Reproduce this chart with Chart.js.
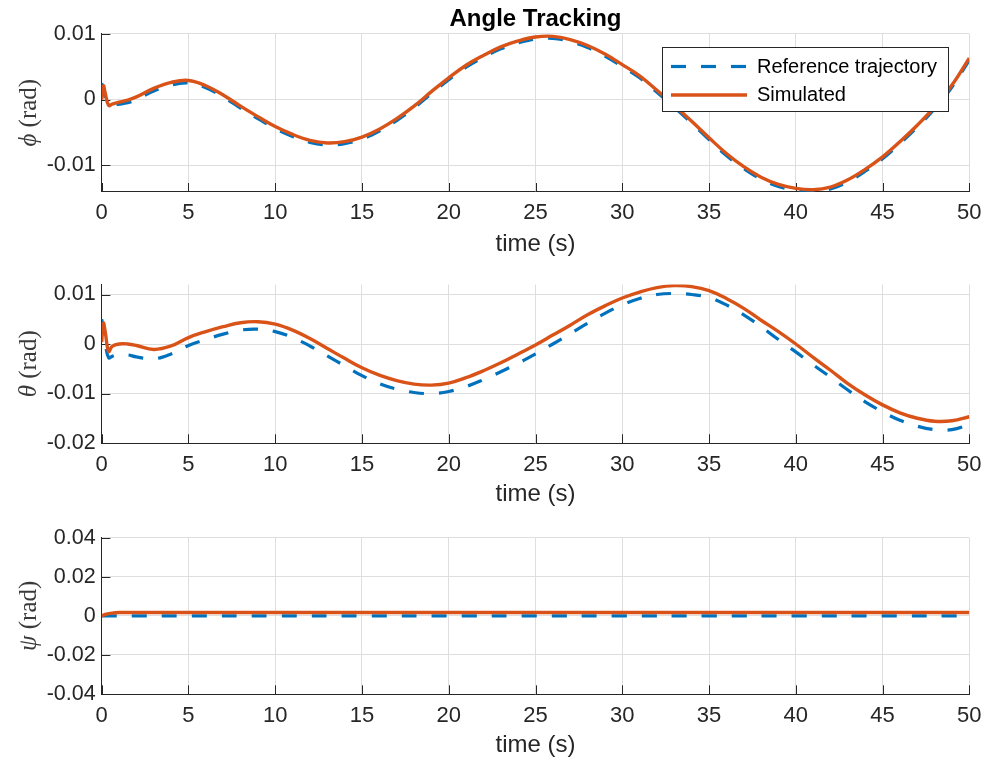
<!DOCTYPE html>
<html><head><meta charset="utf-8">
<script src="https://cdn.jsdelivr.net/npm/chart.js@4/dist/chart.umd.min.js"></script>
<style>
html,body{margin:0;padding:0;background:#fff;width:984px;height:763px;overflow:hidden}
.panel{position:absolute;left:0;width:984px}
canvas{display:block}
</style></head><body>
<div class="panel" style="top:0;height:262px"><canvas id="c1" width="984" height="262"></canvas></div>
<div class="panel" style="top:262px;height:250px"><canvas id="c2" width="984" height="250"></canvas></div>
<div class="panel" style="top:512px;height:251px"><canvas id="c3" width="984" height="251"></canvas></div>
<script>
// ---------- data ----------
const titleText = 'Angle Tracking';
const xLabel = 'time (s)';
const seriesNames = ['Reference trajectory', 'Simulated'];

const time = [0, 0.1, 0.2, 0.4, 0.6, 1, 1.5, 2,
  3, 4, 5, 6, 7, 8, 9, 10, 11, 12, 13, 14, 15, 16, 17, 18, 19, 20, 21, 22, 23, 24, 25, 26,
  27, 28, 29, 30, 31, 32, 33, 34, 35, 36, 37, 38, 39, 40, 41, 42, 43, 44, 45, 46, 47, 48, 49, 50];

const phiRef = [0.0025, 0.0014, 0.0004, -0.0006, -0.0008, -0.0007, -0.0005, 0.0000,
  0.0013, 0.0022, 0.0025, 0.0018, 0.0004, -0.0013, -0.0029, -0.0044, -0.0056, -0.0065, -0.0069, -0.0067,
  -0.0060, -0.0048, -0.0032, -0.0013, 0.0009, 0.0030, 0.0049, 0.0064, 0.0077, 0.0086, 0.0092, 0.0093,
  0.0088, 0.0079, 0.0066, 0.0050, 0.0033, 0.0011, -0.0012, -0.0036, -0.0061, -0.0085, -0.0105, -0.0121,
  -0.0132, -0.0138, -0.0141, -0.0136, -0.0125, -0.0109, -0.0090, -0.0067, -0.0042, -0.0014, 0.0019, 0.0060];
const phiSim = [0.0000, 0.0021, 0.0010, -0.0009, -0.0007, -0.0004, -0.0001, 0.0004,
  0.0017, 0.0026, 0.0029, 0.0021, 0.0007, -0.0010, -0.0026, -0.0041, -0.0053, -0.0062, -0.0066, -0.0064,
  -0.0057, -0.0045, -0.0029, -0.0010, 0.0012, 0.0033, 0.0052, 0.0067, 0.0080, 0.0089, 0.0095, 0.0096,
  0.0091, 0.0082, 0.0069, 0.0053, 0.0036, 0.0014, -0.0009, -0.0033, -0.0058, -0.0082, -0.0102, -0.0118,
  -0.0129, -0.0135, -0.0137, -0.0133, -0.0122, -0.0106, -0.0087, -0.0064, -0.0039, -0.0011, 0.0022, 0.0063];

const thetaRef = [0.0050, 0.0030, 0.0002, -0.0028, -0.0025, -0.0021, -0.0022, -0.0026,
  -0.0030, -0.0020, -0.0003, 0.0009, 0.0020, 0.0028, 0.0030, 0.0025, 0.0013, -0.0004, -0.0024, -0.0044,
  -0.0064, -0.0080, -0.0091, -0.0098, -0.0100, -0.0096, -0.0086, -0.0072, -0.0056, -0.0039, -0.0020, 0.0000,
  0.0021, 0.0042, 0.0062, 0.0079, 0.0092, 0.0100, 0.0102, 0.0100, 0.0094, 0.0079, 0.0059, 0.0035,
  0.0009, -0.0016, -0.0042, -0.0067, -0.0093, -0.0117, -0.0137, -0.0154, -0.0166, -0.0173, -0.0173, -0.0163];
const thetaSim = [0.0004, 0.0042, 0.0025, -0.0015, -0.0005, 0.0000, 0.0000, -0.0003,
  -0.0011, -0.0004, 0.0013, 0.0025, 0.0035, 0.0043, 0.0045, 0.0040, 0.0028, 0.0011, -0.0009, -0.0029,
  -0.0048, -0.0063, -0.0074, -0.0081, -0.0083, -0.0079, -0.0068, -0.0054, -0.0038, -0.0020, -0.0002, 0.0018,
  0.0038, 0.0059, 0.0077, 0.0093, 0.0105, 0.0114, 0.0118, 0.0116, 0.0108, 0.0092, 0.0072, 0.0048,
  0.0025, 0.0000, -0.0027, -0.0053, -0.0080, -0.0103, -0.0123, -0.0139, -0.0150, -0.0156, -0.0155, -0.0147];

const psiTime = [0, 0.2, 0.4, 0.6, 0.8, 1, 1.5, 2, 5, 10, 15, 20, 25, 30, 35, 40, 45, 50];
const psiRef = [0, 0, 0, 0, 0, 0, 0, 0, 0, 0, 0, 0, 0, 0, 0, 0, 0, 0];
const psiSim = [0, 0.0007, 0.0011, 0.0014, 0.0016, 0.0017, 0.0017, 0.0017, 0.0017, 0.0017,
  0.0017, 0.0017, 0.0017, 0.0017, 0.0017, 0.0017, 0.0017, 0.0017];

const xTicks = [0, 5, 10, 15, 20, 25, 30, 35, 40, 45, 50];
const xTickLabels = ['0', '5', '10', '15', '20', '25', '30', '35', '40', '45', '50'];
const phiTicks = [-0.01, 0, 0.01];
const phiTickLabels = ['-0.01', '0', '0.01'];
const thetaTicks = [-0.02, -0.01, 0, 0.01];
const thetaTickLabels = ['-0.02', '-0.01', '0', '0.01'];
const psiTicks = [-0.04, -0.02, 0, 0.02, 0.04];
const psiTickLabels = ['-0.04', '-0.02', '0', '0.02', '0.04'];

// ---------- style ----------
const FONT = '"Liberation Sans", Arial, Helvetica, sans-serif';
const SERIF = '"Liberation Serif", "DejaVu Serif", serif';
const BLUE = '#0072BD', ORANGE = '#D95319';
const AX = '#262626', GRID = '#dedede';

const tickPlugin = {
  id: 'inTicks',
  beforeDatasetsDraw(chart) {
    const {ctx, chartArea: a, scales: {x, y}} = chart;
    const L = 8.7;
    ctx.save();
    ctx.strokeStyle = AX; ctx.lineWidth = 1;
    ctx.beginPath();
    x.ticks.forEach(t => { const p = Math.round(x.getPixelForValue(t.value)) + 0.5;
      ctx.moveTo(p, a.bottom); ctx.lineTo(p, a.bottom - L); });
    y.ticks.forEach(t => { const p = Math.round(y.getPixelForValue(t.value)) + 0.5;
      ctx.moveTo(a.left, p); ctx.lineTo(a.left + L, p); });
    ctx.stroke();
    ctx.restore();
  }
};

const yLabelPlugin = {
  id: 'yLab',
  afterDraw(chart, args, o) {
    const {ctx, chartArea: a} = chart;
    ctx.save();
    ctx.translate(o.x, (a.top + a.bottom) / 2);
    ctx.rotate(-Math.PI / 2);
    ctx.fillStyle = o.color;
    ctx.textBaseline = 'middle';
    const f1 = 'italic ' + o.size + 'px ' + SERIF, f2 = o.size + 'px ' + SERIF;
    ctx.font = f1; const w1 = ctx.measureText(o.sym).width;
    ctx.font = f2; const w2 = ctx.measureText(o.rest).width;
    const x0 = -(w1 + w2) / 2;
    ctx.font = f1; ctx.textAlign = 'left'; ctx.fillText(o.sym, x0, 0);
    ctx.font = f2; ctx.fillText(o.rest, x0 + w1, 0);
    ctx.restore();
  }
};

const boxLegend = {
  id: 'boxLegend',
  afterDatasetsDraw(chart, args, o) {
    if (!o.show) return;
    const {ctx} = chart;
    ctx.save();
    ctx.fillStyle = '#fff';
    ctx.fillRect(o.x, o.y, o.w, o.h);
    ctx.strokeStyle = AX; ctx.lineWidth = 1;
    ctx.strokeRect(o.x, o.y, o.w, o.h);
    chart.data.datasets.forEach((ds, i) => {
      const yy = o.rows[i];
      ctx.beginPath();
      ctx.strokeStyle = ds.borderColor; ctx.lineWidth = ds.borderWidth;
      ctx.setLineDash(ds.borderDash || []);
      ctx.lineCap = 'butt';
      ctx.moveTo(o.lx0, yy); ctx.lineTo(o.lx1, yy); ctx.stroke();
      ctx.setLineDash([]);
      ctx.fillStyle = '#000'; ctx.font = o.size + 'px ' + FONT;
      ctx.textBaseline = 'middle'; ctx.textAlign = 'left';
      ctx.fillText(ds.label, o.tx, o.textRows[i]);
    });
    ctx.restore();
  }
};

function makeChart(id, cfg) {
  const xs = cfg.t;
  const pts = arr => arr.map((v, i) => ({x: xs[i], y: v}));
  return new Chart(document.getElementById(id), {
    type: 'line',
    data: {
      datasets: [
        {label: seriesNames[0], data: pts(cfg.ref), borderColor: BLUE, borderWidth: 3.2,
         borderDash: [15, 15], pointRadius: 0, tension: 0.4, order: 1, fill: false},
        {label: seriesNames[1], data: pts(cfg.sim), borderColor: ORANGE, borderWidth: 3.4,
         pointRadius: 0, tension: 0.4, order: 0, fill: false}
      ]
    },
    plugins: [tickPlugin, yLabelPlugin, boxLegend],
    options: {
      responsive: false, animation: false, devicePixelRatio: 1,
      layout: {padding: {top: cfg.padTop, right: 14.7, bottom: 0, left: 0}},
      plugins: {
        legend: {display: false}, tooltip: {enabled: false},
        title: {display: !!cfg.title, text: titleText, fullSize: false, color: '#000',
          font: {family: FONT, size: 24, weight: 'bold'}, padding: {top: 4.6, bottom: 0.3}},
        yLab: {sym: cfg.sym, rest: ' (rad)', x: 29, size: 25, color: '#3a3a3a'},
        boxLegend: {show: !!cfg.legend, x: 662.5, y: 47.5, w: 286, h: 64, rows: [66.5, 95],
          textRows: [67.5, 95.5], lx0: 671, lx1: 747, tx: 757, size: 20}
      },
      scales: {
        x: {
          type: 'linear', min: 0, max: 50,
          afterBuildTicks: s => { s.ticks = xTicks.map(v => ({value: v})); },
          afterFit: s => { s.height = cfg.xH; s.paddingLeft = 0; s.paddingRight = 0; },
          ticks: {callback: (v, i) => xTickLabels[i], padding: 8.5, maxRotation: 0, autoSkip: false,
            color: AX, font: {family: FONT, size: 22}},
          grid: {color: GRID, drawTicks: false, lineWidth: 1},
          border: {color: AX, width: 1},
          title: {display: true, text: xLabel, color: AX, font: {family: FONT, size: 24},
            padding: {top: 0, bottom: 3.6}}
        },
        y: {
          type: 'linear', min: cfg.yMin, max: cfg.yMax,
          afterBuildTicks: s => { s.ticks = cfg.yTicks.map(v => ({value: v})); },
          afterFit: s => { s.width = 101.7; s.paddingTop = 0; s.paddingBottom = 0; },
          ticks: {callback: (v, i) => cfg.yTickLabels[i], padding: 6, autoSkip: false,
            color: AX, font: {family: FONT, size: 21.5}},
          grid: {color: GRID, drawTicks: false, lineWidth: 1},
          border: {color: AX, width: 1}
        }
      }
    }
  });
}

makeChart('c1', {t: time, ref: phiRef, sim: phiSim, yMin: -0.014, yMax: 0.01, yTicks: phiTicks,
  yTickLabels: phiTickLabels, sym: 'ϕ', padTop: 0, xH: 70.3, title: true, legend: true});
makeChart('c2', {t: time, ref: thetaRef, sim: thetaSim, yMin: -0.02, yMax: 0.012, yTicks: thetaTicks,
  yTickLabels: thetaTickLabels, sym: 'θ', padTop: 22.6, xH: 69});
makeChart('c3', {t: psiTime, ref: psiRef, sim: psiSim, yMin: -0.04, yMax: 0.04, yTicks: psiTicks,
  yTickLabels: psiTickLabels, sym: 'ψ', padTop: 25.7, xH: 69});
</script>
</body></html>
